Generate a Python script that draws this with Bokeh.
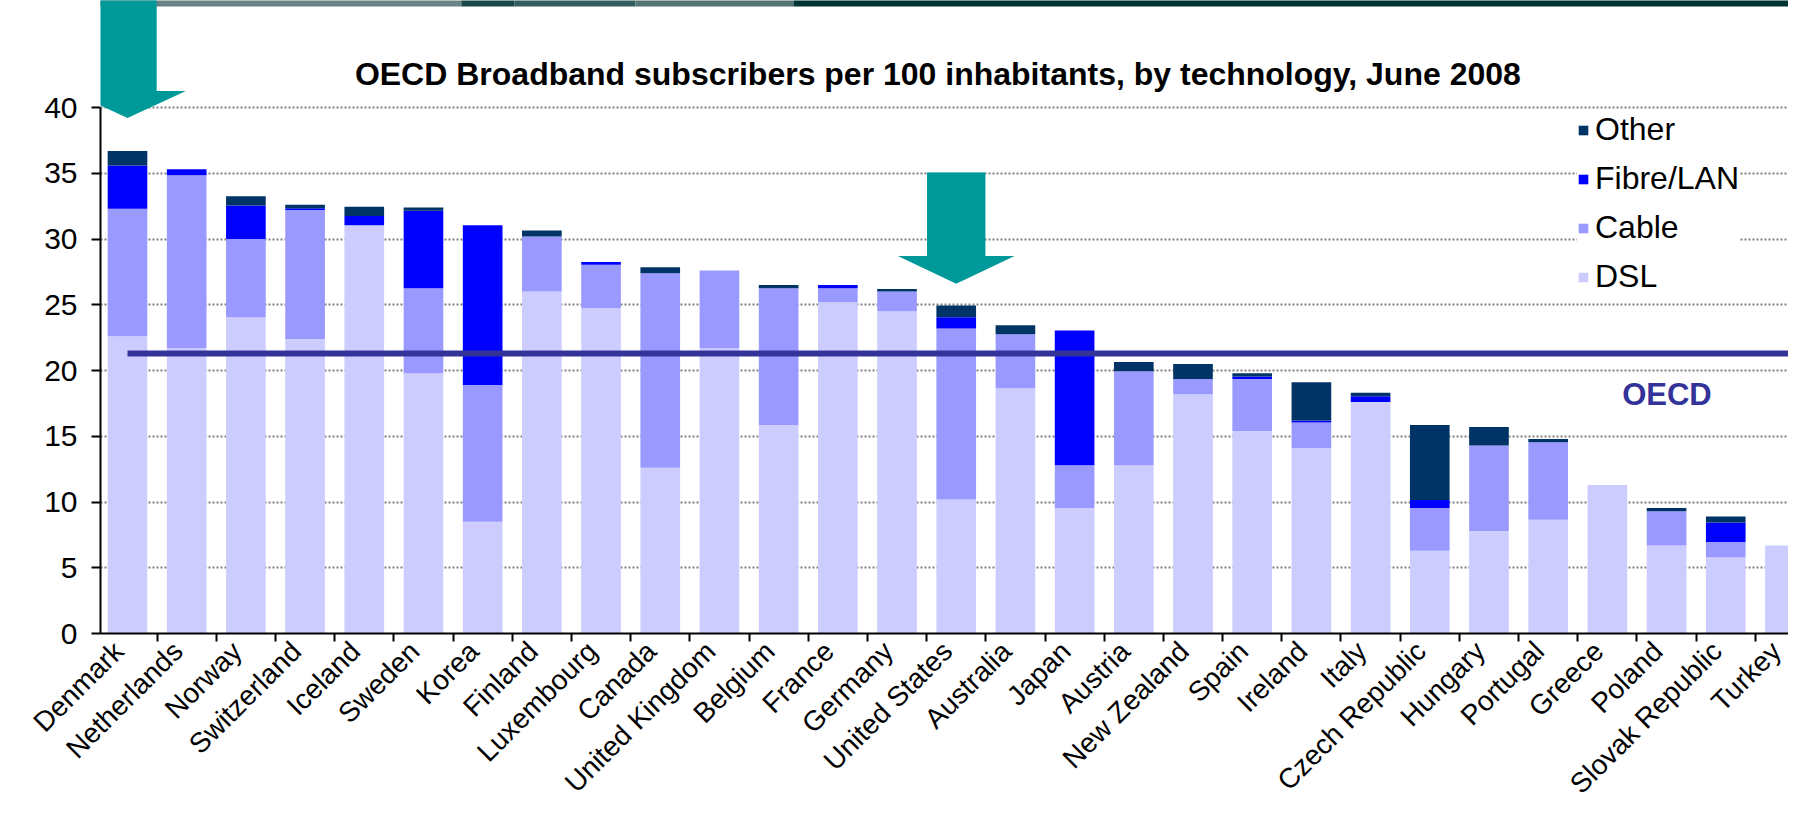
import math
from bokeh.plotting import figure
from bokeh.models import (ColumnDataSource, Range1d, FixedTicker, Legend,
                          LegendItem, Label, PolyAnnotation, BoxAnnotation)
from bokeh.embed import file_html
from bokeh.resources import INLINE

# ---------------- data ----------------
countries = ["Denmark", "Netherlands", "Norway", "Switzerland", "Iceland",
             "Sweden", "Korea", "Finland", "Luxembourg", "Canada",
             "United Kingdom", "Belgium", "France", "Germany", "United States",
             "Australia", "Japan", "Austria", "New Zealand", "Spain",
             "Ireland", "Italy", "Czech Republic", "Hungary", "Portugal",
             "Greece", "Poland", "Slovak Republic", "Turkey"]
dsl = [22.6, 21.7, 24.05, 22.4, 31.05, 19.8, 8.5, 26.0, 24.75, 12.6,
       21.7, 15.85, 25.2, 24.5, 10.2, 18.65, 9.55, 12.8, 18.2, 15.4,
       14.1, 17.6, 6.3, 7.8, 8.65, 11.3, 6.7, 5.8, 6.7]
cable = [9.7, 13.15, 5.95, 9.8, 0.0, 6.45, 10.4, 4.2, 3.3, 14.8,
         5.9, 10.4, 1.05, 1.5, 13.0, 4.1, 3.25, 7.15, 1.15, 3.95,
         1.95, 0.0, 3.25, 6.5, 5.9, 0.0, 2.6, 1.15, 0.0]
fibre = [3.3, 0.45, 2.55, 0.15, 0.7, 5.9, 12.15, 0.0, 0.2, 0.0,
         0.0, 0.0, 0.25, 0.0, 0.85, 0.0, 10.25, 0.0, 0.0, 0.2,
         0.15, 0.45, 0.6, 0.0, 0.0, 0.0, 0.0, 1.5, 0.0]
other = [1.1, 0.0, 0.7, 0.25, 0.7, 0.25, 0.0, 0.45, 0.0, 0.45,
         0.0, 0.25, 0.0, 0.2, 0.9, 0.7, 0.0, 0.7, 1.15, 0.25,
         2.9, 0.25, 5.7, 1.4, 0.25, 0.0, 0.25, 0.45, 0.0]
oecd_avg = 21.3
y_ticks = [0, 5, 10, 15, 20, 25, 30, 35, 40]
series_keys = ["dsl", "cable", "fibre", "other"]
series_names = ["DSL", "Cable", "Fibre/LAN", "Other"]
series_colors = ["#CCCCFF", "#9999FF", "#0000FF", "#003366"]
title_text = "OECD Broadband subscribers per 100 inhabitants, by technology,   June 2008"

# highlighted countries (arrows): index, shaft top, head base, tip
arrow_idx = [0, 14]
arrow_top = [52.0, 35.05]
arrow_head = [41.25, 28.7]
arrow_tip = [39.2, 26.6]

FONT = "Liberation Sans"
Y_TOP = 48.14
X_START = -0.456
LABEL_SHIFT = -0.15   # rotated category labels end slightly left of bar centres

xs = list(range(len(countries)))
source = ColumnDataSource(dict(x=xs, dsl=dsl, cable=cable, fibre=fibre, other=other))

p = figure(width=1788, height=814, output_backend="svg", toolbar_location=None,
           x_range=Range1d(X_START, 28.06), y_range=Range1d(0, Y_TOP),
           min_border_left=100, min_border_right=0, min_border_top=0,
           min_border_bottom=181)
p.outline_line_color = None
p.background_fill_color = "white"
p.border_fill_color = "white"

# slide header band (decoration)
band_edges = [-3.0, 5.64, 6.54, 8.58, 11.25, 40.0]
band_colors = ["#688484", "#1A4848", "#335C5C", "#547474", "#003333"]
for i, c in enumerate(band_colors):
    p.add_layout(BoxAnnotation(left=band_edges[i], right=band_edges[i + 1],
                               bottom=Y_TOP - 6 / 13.15, top=Y_TOP + 2,
                               fill_color=c, fill_alpha=1.0, line_color=None,
                               level="underlay"))

renderers = p.vbar_stack(series_keys, x="x", width=0.67, color=series_colors,
                         line_color=None, source=source)

# OECD average line
p.segment(x0=[xs[0]], x1=[len(countries) + 1], y0=[oecd_avg], y1=[oecd_avg],
          line_color="#333399", line_width=6, line_cap="butt")

# arrows
for i, t, h, tp in zip(arrow_idx, arrow_top, arrow_head, arrow_tip):
    sw, hw = 0.493, 0.986
    p.add_layout(PolyAnnotation(
        xs=[i - sw, i + sw, i + sw, i + hw, i, i - hw, i - sw],
        ys=[t, t, h, h, tp, h, h],
        fill_color="#009999", fill_alpha=1.0, line_color=None))

# x axis: labels at (shifted) centres, tick marks at category boundaries
label_pos = [k + LABEL_SHIFT for k in xs]
p.xaxis.ticker = FixedTicker(ticks=label_pos,
                             minor_ticks=[k - 0.5 for k in xs] + [len(xs) - 0.5])
p.xaxis.major_label_overrides = {pos: c for pos, c in zip(label_pos, countries)}
p.xaxis.major_label_orientation = math.pi / 4
p.xaxis.major_label_text_font = FONT
p.xaxis.major_label_text_font_size = "28px"
p.xaxis.major_label_text_color = "black"
p.xaxis.major_label_standoff = 5
p.xaxis.major_tick_out = 0
p.xaxis.major_tick_in = 0
p.xaxis.minor_tick_out = 8
p.xaxis.minor_tick_in = 0
p.xaxis.minor_tick_line_width = 2
p.xaxis.minor_tick_line_color = "black"
p.xaxis.axis_line_width = 2
p.xaxis.axis_line_color = "black"

p.yaxis.bounds = (0, 40)
p.yaxis.ticker = FixedTicker(ticks=y_ticks, minor_ticks=[])
p.yaxis.major_label_text_font = FONT
p.yaxis.major_label_text_font_size = "30px"
p.yaxis.major_label_text_color = "black"
p.yaxis.major_tick_out = 9
p.yaxis.major_tick_in = 0
p.yaxis.major_tick_line_width = 2
p.yaxis.axis_line_width = 2
p.yaxis.axis_line_color = "black"
p.yaxis.major_label_standoff = 14

p.xgrid.grid_line_color = None
p.ygrid.ticker = FixedTicker(ticks=y_ticks[1:])
p.ygrid.grid_line_color = "#808080"
p.ygrid.grid_line_width = 2
p.ygrid.grid_line_dash = "2 2"

# title and OECD label as in-plot text
p.add_layout(Label(x=13.84, y=42.57, text=title_text, text_font=FONT,
                   text_font_size="32px", text_font_style="bold",
                   text_color="black", text_align="center",
                   text_baseline="alphabetic"))
p.add_layout(Label(x=25.25, y=oecd_avg - 3.11, text="OECD", text_font=FONT,
                   text_font_size="31px", text_font_style="bold",
                   text_color="#333399", text_align="left",
                   text_baseline="alphabetic"))

items = [LegendItem(label=n, renderers=[r]) for n, r in zip(series_names, renderers)]
legend = Legend(items=items[::-1], location=(1477, 338), orientation="vertical",
                label_text_font=FONT, label_text_font_size="32px",
                label_text_color="black", glyph_width=12, glyph_height=12,
                label_standoff=6, label_height=36, spacing=12, padding=4,
                margin=0, border_line_color=None, background_fill_color="white",
                background_fill_alpha=1.0)
p.add_layout(legend, "center")

open("out.html", "w").write(file_html(p, INLINE))
